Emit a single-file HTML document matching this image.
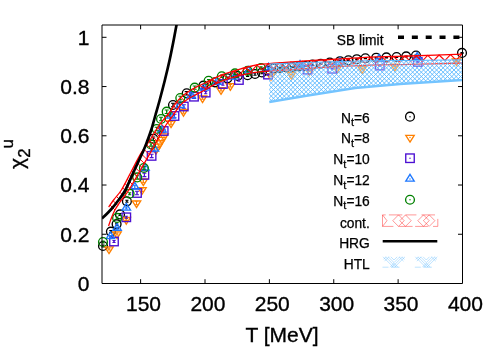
<!DOCTYPE html>
<html><head><meta charset="utf-8"><title>chi2u</title>
<style>
html,body{margin:0;padding:0;background:#fff;}
body{width:500px;height:350px;overflow:hidden;font-family:"Liberation Sans",sans-serif;}
svg{display:block;font-family:"Liberation Sans",sans-serif;will-change:transform;}
</style></head><body>
<svg width="500" height="350" viewBox="0 0 500 350">
<defs>
<clipPath id="plot"><rect x="102" y="25" width="360.5" height="258.5"/></clipPath>
</defs>
<rect x="0" y="0" width="500" height="350" fill="#fff"/>

<g>
<path d="M103.00,245.00 V247.00 M101.40,245.00 H104.60 M101.40,247.00 H104.60" stroke="#000" stroke-width="1.05" fill="none"/>
<circle cx="103.00" cy="246.00" r="4.4" fill="none" stroke="#000" stroke-width="1.35"/><circle cx="103.00" cy="246.00" r="0.7" fill="#000"/>
<path d="M110.90,230.60 V232.60 M109.30,230.60 H112.50 M109.30,232.60 H112.50" stroke="#000" stroke-width="1.05" fill="none"/>
<circle cx="110.90" cy="231.60" r="4.4" fill="none" stroke="#000" stroke-width="1.35"/><circle cx="110.90" cy="231.60" r="0.7" fill="#000"/>
<path d="M116.60,223.10 V225.10 M115.00,223.10 H118.20 M115.00,225.10 H118.20" stroke="#000" stroke-width="1.05" fill="none"/>
<circle cx="116.60" cy="224.10" r="4.4" fill="none" stroke="#000" stroke-width="1.35"/><circle cx="116.60" cy="224.10" r="0.7" fill="#000"/>
<path d="M120.00,213.40 V215.40 M118.40,213.40 H121.60 M118.40,215.40 H121.60" stroke="#000" stroke-width="1.05" fill="none"/>
<circle cx="120.00" cy="214.40" r="4.4" fill="none" stroke="#000" stroke-width="1.35"/><circle cx="120.00" cy="214.40" r="0.7" fill="#000"/>
<path d="M126.90,200.30 V202.30 M125.30,200.30 H128.50 M125.30,202.30 H128.50" stroke="#000" stroke-width="1.05" fill="none"/>
<circle cx="126.90" cy="201.30" r="4.4" fill="none" stroke="#000" stroke-width="1.35"/><circle cx="126.90" cy="201.30" r="0.7" fill="#000"/>
<path d="M153.30,137.00 V140.40 M151.30,137.00 H155.30 M151.30,140.40 H155.30" stroke="#000" stroke-width="1.05" fill="none"/>
<circle cx="153.30" cy="138.70" r="4.4" fill="none" stroke="#000" stroke-width="1.35"/><circle cx="153.30" cy="138.70" r="0.7" fill="#000"/>
<path d="M173.00,103.30 V106.70 M171.00,103.30 H175.00 M171.00,106.70 H175.00" stroke="#000" stroke-width="1.05" fill="none"/>
<circle cx="173.00" cy="105.00" r="4.4" fill="none" stroke="#000" stroke-width="1.35"/><circle cx="173.00" cy="105.00" r="0.7" fill="#000"/>
<path d="M186.70,91.60 V95.00 M184.70,91.60 H188.70 M184.70,95.00 H188.70" stroke="#000" stroke-width="1.05" fill="none"/>
<circle cx="186.70" cy="93.30" r="4.4" fill="none" stroke="#000" stroke-width="1.35"/><circle cx="186.70" cy="93.30" r="0.7" fill="#000"/>
<path d="M203.40,84.50 V86.90 M201.80,84.50 H205.00 M201.80,86.90 H205.00" stroke="#000" stroke-width="1.05" fill="none"/>
<circle cx="203.40" cy="85.70" r="4.4" fill="none" stroke="#000" stroke-width="1.35"/><circle cx="203.40" cy="85.70" r="0.7" fill="#000"/>
<path d="M214.90,81.10 V83.50 M213.30,81.10 H216.50 M213.30,83.50 H216.50" stroke="#000" stroke-width="1.05" fill="none"/>
<circle cx="214.90" cy="82.30" r="4.4" fill="none" stroke="#000" stroke-width="1.35"/><circle cx="214.90" cy="82.30" r="0.7" fill="#000"/>
<path d="M227.40,77.10 V79.50 M225.80,77.10 H229.00 M225.80,79.50 H229.00" stroke="#000" stroke-width="1.05" fill="none"/>
<circle cx="227.40" cy="78.30" r="4.4" fill="none" stroke="#000" stroke-width="1.35"/><circle cx="227.40" cy="78.30" r="0.7" fill="#000"/>
<path d="M237.70,74.80 V77.20 M236.10,74.80 H239.30 M236.10,77.20 H239.30" stroke="#000" stroke-width="1.05" fill="none"/>
<circle cx="237.70" cy="76.00" r="4.4" fill="none" stroke="#000" stroke-width="1.35"/><circle cx="237.70" cy="76.00" r="0.7" fill="#000"/>
<path d="M247.60,74.00 V76.40 M246.00,74.00 H249.20 M246.00,76.40 H249.20" stroke="#000" stroke-width="1.05" fill="none"/>
<circle cx="247.60" cy="75.20" r="4.4" fill="none" stroke="#000" stroke-width="1.35"/><circle cx="247.60" cy="75.20" r="0.7" fill="#000"/>
<path d="M255.00,72.80 V75.20 M253.40,72.80 H256.60 M253.40,75.20 H256.60" stroke="#000" stroke-width="1.05" fill="none"/>
<circle cx="255.00" cy="74.00" r="4.4" fill="none" stroke="#000" stroke-width="1.35"/><circle cx="255.00" cy="74.00" r="0.7" fill="#000"/>
<path d="M261.90,71.30 V73.70 M260.30,71.30 H263.50 M260.30,73.70 H263.50" stroke="#000" stroke-width="1.05" fill="none"/>
<circle cx="261.90" cy="72.50" r="4.4" fill="none" stroke="#000" stroke-width="1.35"/><circle cx="261.90" cy="72.50" r="0.7" fill="#000"/>
<path d="M267.50,70.00 V71.00 M265.90,70.00 H269.10 M265.90,71.00 H269.10" stroke="#000" stroke-width="1.05" fill="none"/>
<circle cx="267.50" cy="70.50" r="4.4" fill="none" stroke="#000" stroke-width="1.35"/><circle cx="267.50" cy="70.50" r="0.7" fill="#000"/>
<path d="M273.40,68.10 V69.10 M271.80,68.10 H275.00 M271.80,69.10 H275.00" stroke="#000" stroke-width="1.05" fill="none"/>
<circle cx="273.40" cy="68.60" r="4.4" fill="none" stroke="#000" stroke-width="1.35"/><circle cx="273.40" cy="68.60" r="0.7" fill="#000"/>
<path d="M279.80,67.30 V68.30 M278.20,67.30 H281.40 M278.20,68.30 H281.40" stroke="#000" stroke-width="1.05" fill="none"/>
<circle cx="279.80" cy="67.80" r="4.4" fill="none" stroke="#000" stroke-width="1.35"/><circle cx="279.80" cy="67.80" r="0.7" fill="#000"/>
<path d="M286.20,66.90 V67.90 M284.60,66.90 H287.80 M284.60,67.90 H287.80" stroke="#000" stroke-width="1.05" fill="none"/>
<circle cx="286.20" cy="67.40" r="4.4" fill="none" stroke="#000" stroke-width="1.35"/><circle cx="286.20" cy="67.40" r="0.7" fill="#000"/>
<path d="M292.40,66.50 V67.50 M290.80,66.50 H294.00 M290.80,67.50 H294.00" stroke="#000" stroke-width="1.05" fill="none"/>
<circle cx="292.40" cy="67.00" r="4.4" fill="none" stroke="#000" stroke-width="1.35"/><circle cx="292.40" cy="67.00" r="0.7" fill="#000"/>
<path d="M298.80,66.00 V67.00 M297.20,66.00 H300.40 M297.20,67.00 H300.40" stroke="#000" stroke-width="1.05" fill="none"/>
<circle cx="298.80" cy="66.50" r="4.4" fill="none" stroke="#000" stroke-width="1.35"/><circle cx="298.80" cy="66.50" r="0.7" fill="#000"/>
<path d="M305.20,65.50 V66.50 M303.60,65.50 H306.80 M303.60,66.50 H306.80" stroke="#000" stroke-width="1.05" fill="none"/>
<circle cx="305.20" cy="66.00" r="4.4" fill="none" stroke="#000" stroke-width="1.35"/><circle cx="305.20" cy="66.00" r="0.7" fill="#000"/>
<path d="M312.40,64.20 V65.20 M310.80,64.20 H314.00 M310.80,65.20 H314.00" stroke="#000" stroke-width="1.05" fill="none"/>
<circle cx="312.40" cy="64.70" r="4.4" fill="none" stroke="#000" stroke-width="1.35"/><circle cx="312.40" cy="64.70" r="0.7" fill="#000"/>
<path d="M320.80,63.20 V64.20 M319.20,63.20 H322.40 M319.20,64.20 H322.40" stroke="#000" stroke-width="1.05" fill="none"/>
<circle cx="320.80" cy="63.70" r="4.4" fill="none" stroke="#000" stroke-width="1.35"/><circle cx="320.80" cy="63.70" r="0.7" fill="#000"/>
<path d="M329.80,62.00 V63.00 M328.20,62.00 H331.40 M328.20,63.00 H331.40" stroke="#000" stroke-width="1.05" fill="none"/>
<circle cx="329.80" cy="62.50" r="4.4" fill="none" stroke="#000" stroke-width="1.35"/><circle cx="329.80" cy="62.50" r="0.7" fill="#000"/>
<path d="M340.00,60.70 V61.70 M338.40,60.70 H341.60 M338.40,61.70 H341.60" stroke="#000" stroke-width="1.05" fill="none"/>
<circle cx="340.00" cy="61.20" r="4.4" fill="none" stroke="#000" stroke-width="1.35"/><circle cx="340.00" cy="61.20" r="0.7" fill="#000"/>
<path d="M348.40,59.80 V60.80 M346.80,59.80 H350.00 M346.80,60.80 H350.00" stroke="#000" stroke-width="1.05" fill="none"/>
<circle cx="348.40" cy="60.30" r="4.4" fill="none" stroke="#000" stroke-width="1.35"/><circle cx="348.40" cy="60.30" r="0.7" fill="#000"/>
<path d="M356.80,58.70 V59.70 M355.20,58.70 H358.40 M355.20,59.70 H358.40" stroke="#000" stroke-width="1.05" fill="none"/>
<circle cx="356.80" cy="59.20" r="4.4" fill="none" stroke="#000" stroke-width="1.35"/><circle cx="356.80" cy="59.20" r="0.7" fill="#000"/>
<path d="M365.40,57.80 V58.80 M363.80,57.80 H367.00 M363.80,58.80 H367.00" stroke="#000" stroke-width="1.05" fill="none"/>
<circle cx="365.40" cy="58.30" r="4.4" fill="none" stroke="#000" stroke-width="1.35"/><circle cx="365.40" cy="58.30" r="0.7" fill="#000"/>
<path d="M376.20,57.20 V58.20 M374.60,57.20 H377.80 M374.60,58.20 H377.80" stroke="#000" stroke-width="1.05" fill="none"/>
<circle cx="376.20" cy="57.70" r="4.4" fill="none" stroke="#000" stroke-width="1.35"/><circle cx="376.20" cy="57.70" r="0.7" fill="#000"/>
<path d="M386.40,56.90 V57.90 M384.80,56.90 H388.00 M384.80,57.90 H388.00" stroke="#000" stroke-width="1.05" fill="none"/>
<circle cx="386.40" cy="57.40" r="4.4" fill="none" stroke="#000" stroke-width="1.35"/><circle cx="386.40" cy="57.40" r="0.7" fill="#000"/>
<path d="M396.60,56.50 V57.50 M395.00,56.50 H398.20 M395.00,57.50 H398.20" stroke="#000" stroke-width="1.05" fill="none"/>
<circle cx="396.60" cy="57.00" r="4.4" fill="none" stroke="#000" stroke-width="1.35"/><circle cx="396.60" cy="57.00" r="0.7" fill="#000"/>
<path d="M406.20,55.90 V56.90 M404.60,55.90 H407.80 M404.60,56.90 H407.80" stroke="#000" stroke-width="1.05" fill="none"/>
<circle cx="406.20" cy="56.40" r="4.4" fill="none" stroke="#000" stroke-width="1.35"/><circle cx="406.20" cy="56.40" r="0.7" fill="#000"/>
<path d="M416.00,55.00 V56.00 M414.40,55.00 H417.60 M414.40,56.00 H417.60" stroke="#000" stroke-width="1.05" fill="none"/>
<circle cx="416.00" cy="55.50" r="4.4" fill="none" stroke="#000" stroke-width="1.35"/><circle cx="416.00" cy="55.50" r="0.7" fill="#000"/>
<path d="M462.00,52.40 V53.40 M460.40,52.40 H463.60 M460.40,53.40 H463.60" stroke="#000" stroke-width="1.05" fill="none"/>
<circle cx="462.00" cy="52.90" r="4.4" fill="none" stroke="#000" stroke-width="1.35"/><circle cx="462.00" cy="52.90" r="0.7" fill="#000"/>
<path d="M109.00,248.00 V250.00 M107.40,248.00 H110.60 M107.40,250.00 H110.60" stroke="#ff8000" stroke-width="1.05" fill="none"/>
<path d="M109.00,253.60 L113.20,246.90 L104.80,246.90 Z" fill="none" stroke="#ff8000" stroke-width="1.35"/><circle cx="109.00" cy="249.00" r="0.7" fill="#ff8000"/>
<path d="M117.00,233.00 V235.00 M115.40,233.00 H118.60 M115.40,235.00 H118.60" stroke="#ff8000" stroke-width="1.05" fill="none"/>
<path d="M117.00,238.60 L121.20,231.90 L112.80,231.90 Z" fill="none" stroke="#ff8000" stroke-width="1.35"/><circle cx="117.00" cy="234.00" r="0.7" fill="#ff8000"/>
<path d="M126.30,218.60 V220.60 M124.70,218.60 H127.90 M124.70,220.60 H127.90" stroke="#ff8000" stroke-width="1.05" fill="none"/>
<path d="M126.30,224.20 L130.50,217.50 L122.10,217.50 Z" fill="none" stroke="#ff8000" stroke-width="1.35"/><circle cx="126.30" cy="219.60" r="0.7" fill="#ff8000"/>
<path d="M136.50,201.30 V204.70 M134.50,201.30 H138.50 M134.50,204.70 H138.50" stroke="#ff8000" stroke-width="1.05" fill="none"/>
<path d="M136.50,207.60 L140.70,200.90 L132.30,200.90 Z" fill="none" stroke="#ff8000" stroke-width="1.35"/><circle cx="136.50" cy="203.00" r="0.7" fill="#ff8000"/>
<path d="M142.00,188.00 V191.40 M140.00,188.00 H144.00 M140.00,191.40 H144.00" stroke="#ff8000" stroke-width="1.05" fill="none"/>
<path d="M142.00,194.30 L146.20,187.60 L137.80,187.60 Z" fill="none" stroke="#ff8000" stroke-width="1.35"/><circle cx="142.00" cy="189.70" r="0.7" fill="#ff8000"/>
<path d="M143.30,179.30 V182.70 M141.30,179.30 H145.30 M141.30,182.70 H145.30" stroke="#ff8000" stroke-width="1.05" fill="none"/>
<path d="M143.30,185.60 L147.50,178.90 L139.10,178.90 Z" fill="none" stroke="#ff8000" stroke-width="1.35"/><circle cx="143.30" cy="181.00" r="0.7" fill="#ff8000"/>
<path d="M171.00,121.30 V124.70 M169.00,121.30 H173.00 M169.00,124.70 H173.00" stroke="#ff8000" stroke-width="1.05" fill="none"/>
<path d="M171.00,127.60 L175.20,120.90 L166.80,120.90 Z" fill="none" stroke="#ff8000" stroke-width="1.35"/><circle cx="171.00" cy="123.00" r="0.7" fill="#ff8000"/>
<path d="M183.50,109.90 V113.30 M181.50,109.90 H185.50 M181.50,113.30 H185.50" stroke="#ff8000" stroke-width="1.05" fill="none"/>
<path d="M183.50,116.20 L187.70,109.50 L179.30,109.50 Z" fill="none" stroke="#ff8000" stroke-width="1.35"/><circle cx="183.50" cy="111.60" r="0.7" fill="#ff8000"/>
<path d="M202.50,96.80 V99.20 M200.90,96.80 H204.10 M200.90,99.20 H204.10" stroke="#ff8000" stroke-width="1.05" fill="none"/>
<path d="M202.50,102.60 L206.70,95.90 L198.30,95.90 Z" fill="none" stroke="#ff8000" stroke-width="1.35"/><circle cx="202.50" cy="98.00" r="0.7" fill="#ff8000"/>
<path d="M221.00,88.50 V90.90 M219.40,88.50 H222.60 M219.40,90.90 H222.60" stroke="#ff8000" stroke-width="1.05" fill="none"/>
<path d="M221.00,94.30 L225.20,87.60 L216.80,87.60 Z" fill="none" stroke="#ff8000" stroke-width="1.35"/><circle cx="221.00" cy="89.70" r="0.7" fill="#ff8000"/>
<path d="M230.30,84.50 V86.90 M228.70,84.50 H231.90 M228.70,86.90 H231.90" stroke="#ff8000" stroke-width="1.05" fill="none"/>
<path d="M230.30,90.30 L234.50,83.60 L226.10,83.60 Z" fill="none" stroke="#ff8000" stroke-width="1.35"/><circle cx="230.30" cy="85.70" r="0.7" fill="#ff8000"/>
<path d="M271.00,75.30 V76.30 M269.40,75.30 H272.60 M269.40,76.30 H272.60" stroke="#ff8000" stroke-width="1.05" fill="none"/>
<path d="M271.00,80.40 L275.20,73.70 L266.80,73.70 Z" fill="none" stroke="#ff8000" stroke-width="1.35"/><circle cx="271.00" cy="75.80" r="0.7" fill="#ff8000"/>
<path d="M291.40,73.90 V74.90 M289.80,73.90 H293.00 M289.80,74.90 H293.00" stroke="#ff8000" stroke-width="1.05" fill="none"/>
<path d="M291.40,79.00 L295.60,72.30 L287.20,72.30 Z" fill="none" stroke="#ff8000" stroke-width="1.35"/><circle cx="291.40" cy="74.40" r="0.7" fill="#ff8000"/>
<path d="M309.40,70.30 V71.30 M307.80,70.30 H311.00 M307.80,71.30 H311.00" stroke="#ff8000" stroke-width="1.05" fill="none"/>
<path d="M309.40,75.40 L313.60,68.70 L305.20,68.70 Z" fill="none" stroke="#ff8000" stroke-width="1.35"/><circle cx="309.40" cy="70.80" r="0.7" fill="#ff8000"/>
<path d="M337.00,67.70 V68.70 M335.40,67.70 H338.60 M335.40,68.70 H338.60" stroke="#ff8000" stroke-width="1.05" fill="none"/>
<path d="M337.00,72.80 L341.20,66.10 L332.80,66.10 Z" fill="none" stroke="#ff8000" stroke-width="1.35"/><circle cx="337.00" cy="68.20" r="0.7" fill="#ff8000"/>
<path d="M362.20,68.30 V69.30 M360.60,68.30 H363.80 M360.60,69.30 H363.80" stroke="#ff8000" stroke-width="1.05" fill="none"/>
<path d="M362.20,73.40 L366.40,66.70 L358.00,66.70 Z" fill="none" stroke="#ff8000" stroke-width="1.35"/><circle cx="362.20" cy="68.80" r="0.7" fill="#ff8000"/>
<path d="M394.80,65.70 V66.70 M393.20,65.70 H396.40 M393.20,66.70 H396.40" stroke="#ff8000" stroke-width="1.05" fill="none"/>
<path d="M394.80,70.80 L399.00,64.10 L390.60,64.10 Z" fill="none" stroke="#ff8000" stroke-width="1.35"/><circle cx="394.80" cy="66.20" r="0.7" fill="#ff8000"/>
<path d="M456.50,60.50 V61.50 M454.90,60.50 H458.10 M454.90,61.50 H458.10" stroke="#ff8000" stroke-width="1.05" fill="none"/>
<path d="M456.50,65.60 L460.70,58.90 L452.30,58.90 Z" fill="none" stroke="#ff8000" stroke-width="1.35"/><circle cx="456.50" cy="61.00" r="0.7" fill="#ff8000"/>
<path d="M156.00,154.20 L160.20,147.50 L151.80,147.50 Z" fill="none" stroke="#ff8000" stroke-width="1.35"/><circle cx="156.00" cy="149.60" r="0.7" fill="#ff8000"/>
<path d="M158.00,150.80 L162.20,144.10 L153.80,144.10 Z" fill="none" stroke="#ff8000" stroke-width="1.35"/><circle cx="158.00" cy="146.20" r="0.7" fill="#ff8000"/>
<path d="M160.00,147.40 L164.20,140.70 L155.80,140.70 Z" fill="none" stroke="#ff8000" stroke-width="1.35"/><circle cx="160.00" cy="142.80" r="0.7" fill="#ff8000"/>
<path d="M162.00,144.00 L166.20,137.30 L157.80,137.30 Z" fill="none" stroke="#ff8000" stroke-width="1.35"/><circle cx="162.00" cy="139.40" r="0.7" fill="#ff8000"/>
<path d="M164.00,140.60 L168.20,133.90 L159.80,133.90 Z" fill="none" stroke="#ff8000" stroke-width="1.35"/><circle cx="164.00" cy="136.00" r="0.7" fill="#ff8000"/>
<path d="M114.00,240.50 V242.50 M112.40,240.50 H115.60 M112.40,242.50 H115.60" stroke="#4b0fd2" stroke-width="1.05" fill="none"/>
<rect x="109.75" y="237.25" width="8.5" height="8.5" fill="none" stroke="#4b0fd2" stroke-width="1.35"/><circle cx="114.00" cy="241.50" r="0.7" fill="#4b0fd2"/>
<path d="M126.30,216.30 V218.30 M124.70,216.30 H127.90 M124.70,218.30 H127.90" stroke="#4b0fd2" stroke-width="1.05" fill="none"/>
<rect x="122.05" y="213.05" width="8.5" height="8.5" fill="none" stroke="#4b0fd2" stroke-width="1.35"/><circle cx="126.30" cy="217.30" r="0.7" fill="#4b0fd2"/>
<path d="M137.00,191.30 V194.70 M135.00,191.30 H139.00 M135.00,194.70 H139.00" stroke="#4b0fd2" stroke-width="1.05" fill="none"/>
<rect x="132.75" y="188.75" width="8.5" height="8.5" fill="none" stroke="#4b0fd2" stroke-width="1.35"/><circle cx="137.00" cy="193.00" r="0.7" fill="#4b0fd2"/>
<path d="M144.40,173.20 V176.60 M142.40,173.20 H146.40 M142.40,176.60 H146.40" stroke="#4b0fd2" stroke-width="1.05" fill="none"/>
<rect x="140.15" y="170.65" width="8.5" height="8.5" fill="none" stroke="#4b0fd2" stroke-width="1.35"/><circle cx="144.40" cy="174.90" r="0.7" fill="#4b0fd2"/>
<path d="M151.60,154.20 V157.60 M149.60,154.20 H153.60 M149.60,157.60 H153.60" stroke="#4b0fd2" stroke-width="1.05" fill="none"/>
<rect x="147.35" y="151.65" width="8.5" height="8.5" fill="none" stroke="#4b0fd2" stroke-width="1.35"/><circle cx="151.60" cy="155.90" r="0.7" fill="#4b0fd2"/>
<path d="M163.70,129.30 V132.70 M161.70,129.30 H165.70 M161.70,132.70 H165.70" stroke="#4b0fd2" stroke-width="1.05" fill="none"/>
<rect x="159.45" y="126.75" width="8.5" height="8.5" fill="none" stroke="#4b0fd2" stroke-width="1.35"/><circle cx="163.70" cy="131.00" r="0.7" fill="#4b0fd2"/>
<path d="M174.50,114.30 V117.70 M172.50,114.30 H176.50 M172.50,117.70 H176.50" stroke="#4b0fd2" stroke-width="1.05" fill="none"/>
<rect x="170.25" y="111.75" width="8.5" height="8.5" fill="none" stroke="#4b0fd2" stroke-width="1.35"/><circle cx="174.50" cy="116.00" r="0.7" fill="#4b0fd2"/>
<path d="M183.80,104.80 V108.20 M181.80,104.80 H185.80 M181.80,108.20 H185.80" stroke="#4b0fd2" stroke-width="1.05" fill="none"/>
<rect x="179.55" y="102.25" width="8.5" height="8.5" fill="none" stroke="#4b0fd2" stroke-width="1.35"/><circle cx="183.80" cy="106.50" r="0.7" fill="#4b0fd2"/>
<path d="M194.00,95.00 V98.40 M192.00,95.00 H196.00 M192.00,98.40 H196.00" stroke="#4b0fd2" stroke-width="1.05" fill="none"/>
<rect x="189.75" y="92.45" width="8.5" height="8.5" fill="none" stroke="#4b0fd2" stroke-width="1.35"/><circle cx="194.00" cy="96.70" r="0.7" fill="#4b0fd2"/>
<path d="M205.70,91.40 V93.80 M204.10,91.40 H207.30 M204.10,93.80 H207.30" stroke="#4b0fd2" stroke-width="1.05" fill="none"/>
<rect x="201.45" y="88.35" width="8.5" height="8.5" fill="none" stroke="#4b0fd2" stroke-width="1.35"/><circle cx="205.70" cy="92.60" r="0.7" fill="#4b0fd2"/>
<path d="M222.90,82.80 V85.20 M221.30,82.80 H224.50 M221.30,85.20 H224.50" stroke="#4b0fd2" stroke-width="1.05" fill="none"/>
<rect x="218.65" y="79.75" width="8.5" height="8.5" fill="none" stroke="#4b0fd2" stroke-width="1.35"/><circle cx="222.90" cy="84.00" r="0.7" fill="#4b0fd2"/>
<path d="M238.90,78.80 V81.20 M237.30,78.80 H240.50 M237.30,81.20 H240.50" stroke="#4b0fd2" stroke-width="1.05" fill="none"/>
<rect x="234.65" y="75.75" width="8.5" height="8.5" fill="none" stroke="#4b0fd2" stroke-width="1.35"/><circle cx="238.90" cy="80.00" r="0.7" fill="#4b0fd2"/>
<path d="M268.00,74.10 V75.10 M266.40,74.10 H269.60 M266.40,75.10 H269.60" stroke="#4b0fd2" stroke-width="1.05" fill="none"/>
<rect x="263.75" y="70.35" width="8.5" height="8.5" fill="none" stroke="#4b0fd2" stroke-width="1.35"/><circle cx="268.00" cy="74.60" r="0.7" fill="#4b0fd2"/>
<path d="M307.60,69.10 V70.10 M306.00,69.10 H309.20 M306.00,70.10 H309.20" stroke="#4b0fd2" stroke-width="1.05" fill="none"/>
<rect x="303.35" y="65.35" width="8.5" height="8.5" fill="none" stroke="#4b0fd2" stroke-width="1.35"/><circle cx="307.60" cy="69.60" r="0.7" fill="#4b0fd2"/>
<path d="M332.20,68.30 V69.30 M330.60,68.30 H333.80 M330.60,69.30 H333.80" stroke="#4b0fd2" stroke-width="1.05" fill="none"/>
<rect x="327.95" y="64.55" width="8.5" height="8.5" fill="none" stroke="#4b0fd2" stroke-width="1.35"/><circle cx="332.20" cy="68.80" r="0.7" fill="#4b0fd2"/>
<path d="M379.80,65.10 V66.10 M378.20,65.10 H381.40 M378.20,66.10 H381.40" stroke="#4b0fd2" stroke-width="1.05" fill="none"/>
<rect x="375.55" y="61.35" width="8.5" height="8.5" fill="none" stroke="#4b0fd2" stroke-width="1.35"/><circle cx="379.80" cy="65.60" r="0.7" fill="#4b0fd2"/>
<path d="M417.80,61.50 V62.50 M416.20,61.50 H419.40 M416.20,62.50 H419.40" stroke="#4b0fd2" stroke-width="1.05" fill="none"/>
<rect x="413.55" y="57.75" width="8.5" height="8.5" fill="none" stroke="#4b0fd2" stroke-width="1.35"/><circle cx="417.80" cy="62.00" r="0.7" fill="#4b0fd2"/>
<path d="M110.50,235.50 V237.50 M108.90,235.50 H112.10 M108.90,237.50 H112.10" stroke="#1e78ff" stroke-width="1.05" fill="none"/>
<path d="M110.50,231.90 L114.70,238.60 L106.30,238.60 Z" fill="none" stroke="#1e78ff" stroke-width="1.35"/><circle cx="110.50" cy="236.50" r="0.7" fill="#1e78ff"/>
<path d="M117.10,227.10 V229.10 M115.50,227.10 H118.70 M115.50,229.10 H118.70" stroke="#1e78ff" stroke-width="1.05" fill="none"/>
<path d="M117.10,223.50 L121.30,230.20 L112.90,230.20 Z" fill="none" stroke="#1e78ff" stroke-width="1.35"/><circle cx="117.10" cy="228.10" r="0.7" fill="#1e78ff"/>
<path d="M126.30,207.00 V209.00 M124.70,207.00 H127.90 M124.70,209.00 H127.90" stroke="#1e78ff" stroke-width="1.05" fill="none"/>
<path d="M126.30,203.40 L130.50,210.10 L122.10,210.10 Z" fill="none" stroke="#1e78ff" stroke-width="1.35"/><circle cx="126.30" cy="208.00" r="0.7" fill="#1e78ff"/>
<path d="M134.80,185.30 V188.70 M132.80,185.30 H136.80 M132.80,188.70 H136.80" stroke="#1e78ff" stroke-width="1.05" fill="none"/>
<path d="M134.80,182.40 L139.00,189.10 L130.60,189.10 Z" fill="none" stroke="#1e78ff" stroke-width="1.35"/><circle cx="134.80" cy="187.00" r="0.7" fill="#1e78ff"/>
<path d="M145.00,166.30 V169.70 M143.00,166.30 H147.00 M143.00,169.70 H147.00" stroke="#1e78ff" stroke-width="1.05" fill="none"/>
<path d="M145.00,163.40 L149.20,170.10 L140.80,170.10 Z" fill="none" stroke="#1e78ff" stroke-width="1.35"/><circle cx="145.00" cy="168.00" r="0.7" fill="#1e78ff"/>
<path d="M154.40,147.30 V150.70 M152.40,147.30 H156.40 M152.40,150.70 H156.40" stroke="#1e78ff" stroke-width="1.05" fill="none"/>
<path d="M154.40,144.40 L158.60,151.10 L150.20,151.10 Z" fill="none" stroke="#1e78ff" stroke-width="1.35"/><circle cx="154.40" cy="149.00" r="0.7" fill="#1e78ff"/>
<path d="M162.00,128.30 V131.70 M160.00,128.30 H164.00 M160.00,131.70 H164.00" stroke="#1e78ff" stroke-width="1.05" fill="none"/>
<path d="M162.00,125.40 L166.20,132.10 L157.80,132.10 Z" fill="none" stroke="#1e78ff" stroke-width="1.35"/><circle cx="162.00" cy="130.00" r="0.7" fill="#1e78ff"/>
<path d="M171.00,114.30 V117.70 M169.00,114.30 H173.00 M169.00,117.70 H173.00" stroke="#1e78ff" stroke-width="1.05" fill="none"/>
<path d="M171.00,111.40 L175.20,118.10 L166.80,118.10 Z" fill="none" stroke="#1e78ff" stroke-width="1.35"/><circle cx="171.00" cy="116.00" r="0.7" fill="#1e78ff"/>
<path d="M180.00,103.80 V107.20 M178.00,103.80 H182.00 M178.00,107.20 H182.00" stroke="#1e78ff" stroke-width="1.05" fill="none"/>
<path d="M180.00,100.90 L184.20,107.60 L175.80,107.60 Z" fill="none" stroke="#1e78ff" stroke-width="1.35"/><circle cx="180.00" cy="105.50" r="0.7" fill="#1e78ff"/>
<path d="M191.30,93.90 V97.30 M189.30,93.90 H193.30 M189.30,97.30 H193.30" stroke="#1e78ff" stroke-width="1.05" fill="none"/>
<path d="M191.30,91.00 L195.50,97.70 L187.10,97.70 Z" fill="none" stroke="#1e78ff" stroke-width="1.35"/><circle cx="191.30" cy="95.60" r="0.7" fill="#1e78ff"/>
<path d="M204.00,86.80 V89.20 M202.40,86.80 H205.60 M202.40,89.20 H205.60" stroke="#1e78ff" stroke-width="1.05" fill="none"/>
<path d="M204.00,83.40 L208.20,90.10 L199.80,90.10 Z" fill="none" stroke="#1e78ff" stroke-width="1.35"/><circle cx="204.00" cy="88.00" r="0.7" fill="#1e78ff"/>
<path d="M217.00,81.10 V83.50 M215.40,81.10 H218.60 M215.40,83.50 H218.60" stroke="#1e78ff" stroke-width="1.05" fill="none"/>
<path d="M217.00,77.70 L221.20,84.40 L212.80,84.40 Z" fill="none" stroke="#1e78ff" stroke-width="1.35"/><circle cx="217.00" cy="82.30" r="0.7" fill="#1e78ff"/>
<path d="M232.00,75.80 V78.20 M230.40,75.80 H233.60 M230.40,78.20 H233.60" stroke="#1e78ff" stroke-width="1.05" fill="none"/>
<path d="M232.00,72.40 L236.20,79.10 L227.80,79.10 Z" fill="none" stroke="#1e78ff" stroke-width="1.35"/><circle cx="232.00" cy="77.00" r="0.7" fill="#1e78ff"/>
<path d="M248.70,69.80 V72.20 M247.10,69.80 H250.30 M247.10,72.20 H250.30" stroke="#1e78ff" stroke-width="1.05" fill="none"/>
<path d="M248.70,66.40 L252.90,73.10 L244.50,73.10 Z" fill="none" stroke="#1e78ff" stroke-width="1.35"/><circle cx="248.70" cy="71.00" r="0.7" fill="#1e78ff"/>
<path d="M268.60,67.30 V68.30 M267.00,67.30 H270.20 M267.00,68.30 H270.20" stroke="#1e78ff" stroke-width="1.05" fill="none"/>
<path d="M268.60,63.20 L272.80,69.90 L264.40,69.90 Z" fill="none" stroke="#1e78ff" stroke-width="1.35"/><circle cx="268.60" cy="67.80" r="0.7" fill="#1e78ff"/>
<path d="M300.00,64.50 V65.50 M298.40,64.50 H301.60 M298.40,65.50 H301.60" stroke="#1e78ff" stroke-width="1.05" fill="none"/>
<path d="M300.00,60.40 L304.20,67.10 L295.80,67.10 Z" fill="none" stroke="#1e78ff" stroke-width="1.35"/><circle cx="300.00" cy="65.00" r="0.7" fill="#1e78ff"/>
<path d="M340.00,61.70 V62.70 M338.40,61.70 H341.60 M338.40,62.70 H341.60" stroke="#1e78ff" stroke-width="1.05" fill="none"/>
<path d="M340.00,57.60 L344.20,64.30 L335.80,64.30 Z" fill="none" stroke="#1e78ff" stroke-width="1.35"/><circle cx="340.00" cy="62.20" r="0.7" fill="#1e78ff"/>
<path d="M379.00,58.50 V59.50 M377.40,58.50 H380.60 M377.40,59.50 H380.60" stroke="#1e78ff" stroke-width="1.05" fill="none"/>
<path d="M379.00,54.40 L383.20,61.10 L374.80,61.10 Z" fill="none" stroke="#1e78ff" stroke-width="1.35"/><circle cx="379.00" cy="59.00" r="0.7" fill="#1e78ff"/>
<path d="M417.20,56.70 V57.70 M415.60,56.70 H418.80 M415.60,57.70 H418.80" stroke="#1e78ff" stroke-width="1.05" fill="none"/>
<path d="M417.20,52.60 L421.40,59.30 L413.00,59.30 Z" fill="none" stroke="#1e78ff" stroke-width="1.35"/><circle cx="417.20" cy="57.20" r="0.7" fill="#1e78ff"/>
<path d="M103.00,241.00 V243.00 M101.40,241.00 H104.60 M101.40,243.00 H104.60" stroke="#008000" stroke-width="1.05" fill="none"/>
<circle cx="103.00" cy="242.00" r="4.4" fill="none" stroke="#008000" stroke-width="1.35"/><circle cx="103.00" cy="242.00" r="0.7" fill="#008000"/>
<path d="M117.10,216.90 V218.90 M115.50,216.90 H118.70 M115.50,218.90 H118.70" stroke="#008000" stroke-width="1.05" fill="none"/>
<circle cx="117.10" cy="217.90" r="4.4" fill="none" stroke="#008000" stroke-width="1.35"/><circle cx="117.10" cy="217.90" r="0.7" fill="#008000"/>
<path d="M129.60,192.70 V194.70 M128.00,192.70 H131.20 M128.00,194.70 H131.20" stroke="#008000" stroke-width="1.05" fill="none"/>
<circle cx="129.60" cy="193.70" r="4.4" fill="none" stroke="#008000" stroke-width="1.35"/><circle cx="129.60" cy="193.70" r="0.7" fill="#008000"/>
<path d="M137.20,175.70 V179.10 M135.20,175.70 H139.20 M135.20,179.10 H139.20" stroke="#008000" stroke-width="1.05" fill="none"/>
<circle cx="137.20" cy="177.40" r="4.4" fill="none" stroke="#008000" stroke-width="1.35"/><circle cx="137.20" cy="177.40" r="0.7" fill="#008000"/>
<path d="M143.90,166.30 V169.70 M141.90,166.30 H145.90 M141.90,169.70 H145.90" stroke="#008000" stroke-width="1.05" fill="none"/>
<circle cx="143.90" cy="168.00" r="4.4" fill="none" stroke="#008000" stroke-width="1.35"/><circle cx="143.90" cy="168.00" r="0.7" fill="#008000"/>
<path d="M151.00,142.70 V146.10 M149.00,142.70 H153.00 M149.00,146.10 H153.00" stroke="#008000" stroke-width="1.05" fill="none"/>
<circle cx="151.00" cy="144.40" r="4.4" fill="none" stroke="#008000" stroke-width="1.35"/><circle cx="151.00" cy="144.40" r="0.7" fill="#008000"/>
<path d="M156.70,127.30 V130.70 M154.70,127.30 H158.70 M154.70,130.70 H158.70" stroke="#008000" stroke-width="1.05" fill="none"/>
<circle cx="156.70" cy="129.00" r="4.4" fill="none" stroke="#008000" stroke-width="1.35"/><circle cx="156.70" cy="129.00" r="0.7" fill="#008000"/>
<path d="M161.00,117.30 V120.70 M159.00,117.30 H163.00 M159.00,120.70 H163.00" stroke="#008000" stroke-width="1.05" fill="none"/>
<circle cx="161.00" cy="119.00" r="4.4" fill="none" stroke="#008000" stroke-width="1.35"/><circle cx="161.00" cy="119.00" r="0.7" fill="#008000"/>
<path d="M166.70,110.00 V113.40 M164.70,110.00 H168.70 M164.70,113.40 H168.70" stroke="#008000" stroke-width="1.05" fill="none"/>
<circle cx="166.70" cy="111.70" r="4.4" fill="none" stroke="#008000" stroke-width="1.35"/><circle cx="166.70" cy="111.70" r="0.7" fill="#008000"/>
<path d="M180.30,96.30 V99.70 M178.30,96.30 H182.30 M178.30,99.70 H182.30" stroke="#008000" stroke-width="1.05" fill="none"/>
<circle cx="180.30" cy="98.00" r="4.4" fill="none" stroke="#008000" stroke-width="1.35"/><circle cx="180.30" cy="98.00" r="0.7" fill="#008000"/>
<path d="M194.70,85.90 V89.30 M192.70,85.90 H196.70 M192.70,89.30 H196.70" stroke="#008000" stroke-width="1.05" fill="none"/>
<circle cx="194.70" cy="87.60" r="4.4" fill="none" stroke="#008000" stroke-width="1.35"/><circle cx="194.70" cy="87.60" r="0.7" fill="#008000"/>
<path d="M208.60,79.60 V82.00 M207.00,79.60 H210.20 M207.00,82.00 H210.20" stroke="#008000" stroke-width="1.05" fill="none"/>
<circle cx="208.60" cy="80.80" r="4.4" fill="none" stroke="#008000" stroke-width="1.35"/><circle cx="208.60" cy="80.80" r="0.7" fill="#008000"/>
<path d="M221.80,75.10 V77.50 M220.20,75.10 H223.40 M220.20,77.50 H223.40" stroke="#008000" stroke-width="1.05" fill="none"/>
<circle cx="221.80" cy="76.30" r="4.4" fill="none" stroke="#008000" stroke-width="1.35"/><circle cx="221.80" cy="76.30" r="0.7" fill="#008000"/>
<path d="M235.00,72.20 V74.60 M233.40,72.20 H236.60 M233.40,74.60 H236.60" stroke="#008000" stroke-width="1.05" fill="none"/>
<circle cx="235.00" cy="73.40" r="4.4" fill="none" stroke="#008000" stroke-width="1.35"/><circle cx="235.00" cy="73.40" r="0.7" fill="#008000"/>
<path d="M247.60,69.60 V72.00 M246.00,69.60 H249.20 M246.00,72.00 H249.20" stroke="#008000" stroke-width="1.05" fill="none"/>
<circle cx="247.60" cy="70.80" r="4.4" fill="none" stroke="#008000" stroke-width="1.35"/><circle cx="247.60" cy="70.80" r="0.7" fill="#008000"/>
<path d="M261.00,66.80 V69.20 M259.40,66.80 H262.60 M259.40,69.20 H262.60" stroke="#008000" stroke-width="1.05" fill="none"/>
<circle cx="261.00" cy="68.00" r="4.4" fill="none" stroke="#008000" stroke-width="1.35"/><circle cx="261.00" cy="68.00" r="0.7" fill="#008000"/>
</g>
<g clip-path="url(#plot)" fill="none" stroke="#ff0000" stroke-width="1.3" stroke-linejoin="round">
<path stroke-width="1.0" d="M110.0,205.0 L115.0,210.0 M113.1,200.7 L117.8,205.4 M116.4,196.4 L120.9,200.9 M119.8,192.1 L124.2,196.5 M122.6,187.8 L127.2,192.4 M124.9,183.5 L129.9,188.5 M127.2,179.2 L132.3,184.3 M129.5,174.9 L134.7,180.1 M131.7,170.6 L137.1,176.0 M134.0,166.3 L139.5,171.8 M136.3,162.0 L141.9,167.6 M138.6,157.7 L144.3,163.4 M140.9,153.4 L146.7,159.2 M143.8,149.1 L149.3,154.6 M146.8,144.8 L152.0,150.0 M149.7,140.5 L154.5,145.3 M152.3,136.2 L157.0,140.9 M154.9,131.9 L159.5,136.5 M157.7,127.6 L162.0,131.9 M160.6,123.3 L164.6,127.3 M164.1,119.0 L167.8,122.7 M167.6,114.7 L171.1,118.2 M170.7,110.4 L174.2,113.9 M173.7,106.1 L177.2,109.6 M176.9,101.8 L180.4,105.3 M181.2,97.5 L185.2,101.5 M186.3,93.2 L190.7,97.6 M192.8,88.9 L197.7,93.8"/>
<polyline points="199.70,85.42 205.40,88.49 211.10,79.76 216.80,82.81 222.50,74.48 228.20,78.42 233.90,71.02 239.60,74.93 245.30,67.73 251.00,71.96 256.70,65.15 262.40,69.87 268.10,63.71 273.80,68.96 279.50,62.80 285.20,68.04 290.90,61.89 296.60,67.22 302.30,61.18 308.00,66.54 313.70,60.50 319.40,65.86 325.10,59.82 330.80,65.19 336.50,59.15 342.20,64.52 347.90,58.49 353.60,63.86 359.30,57.82 365.00,63.19 370.70,57.18 376.40,62.70 382.10,56.82 387.80,62.33 393.50,56.46 399.20,62.00 404.90,56.14 410.60,61.68 416.30,55.78 422.00,61.29 427.70,55.39 433.40,60.90 439.10,55.00 444.80,60.51 450.50,54.61 456.20,60.12 461.90,54.22" stroke-width="1.1"/>
<path d="M108.60,207.00 C109.50,205.75 111.87,202.33 114.00,199.50 C116.13,196.67 118.57,194.58 121.40,190.00 C124.23,185.42 127.75,178.10 131.00,172.00 C134.25,165.90 137.83,158.57 140.90,153.40 C143.97,148.23 147.03,144.65 149.40,141.00 C151.77,137.35 153.33,134.32 155.10,131.50 C156.87,128.68 158.43,126.27 160.00,124.10 C161.57,121.93 163.07,120.27 164.50,118.50 C165.93,116.73 167.18,115.42 168.60,113.50 C170.02,111.58 171.52,109.08 173.00,107.00 C174.48,104.92 175.67,103.03 177.50,101.00 C179.33,98.97 182.20,96.33 184.00,94.80 C185.80,93.27 186.80,92.80 188.30,91.80 C189.80,90.80 191.38,89.73 193.00,88.80 C194.62,87.87 196.00,87.17 198.00,86.20 C200.00,85.23 202.77,84.10 205.00,83.00 C207.23,81.90 208.42,81.05 211.40,79.60 C214.38,78.15 219.08,75.75 222.90,74.30 C226.72,72.85 231.45,71.77 234.30,70.90 C237.15,70.03 237.05,69.92 240.00,69.10 C242.95,68.28 248.33,66.82 252.00,66.00 C255.67,65.18 255.33,64.90 262.00,64.20 C268.67,63.50 282.00,62.50 292.00,61.80 C302.00,61.10 309.00,60.77 322.00,60.00 C335.00,59.23 358.33,57.78 370.00,57.20 C381.67,56.62 385.33,56.70 392.00,56.50 C398.67,56.30 398.25,56.38 410.00,56.00 C421.75,55.62 453.75,54.50 462.50,54.20"/>
<path d="M108.60,226.00 C109.07,224.67 110.35,220.67 111.40,218.00 C112.45,215.33 113.65,212.40 114.90,210.00 C116.15,207.60 117.77,205.33 118.90,203.60 C120.03,201.87 120.03,201.87 121.70,199.60 C123.37,197.33 125.93,194.65 128.90,190.00 C131.87,185.35 135.98,177.80 139.50,171.70 C143.02,165.60 147.15,158.43 150.00,153.40 C152.85,148.37 154.68,144.98 156.60,141.50 C158.52,138.02 159.93,135.25 161.50,132.50 C163.07,129.75 164.10,127.82 166.00,125.00 C167.90,122.18 170.57,118.85 172.90,115.60 C175.23,112.35 177.43,108.30 180.00,105.50 C182.57,102.70 185.30,100.78 188.30,98.80 C191.30,96.82 195.22,95.07 198.00,93.60 C200.78,92.13 202.77,91.23 205.00,90.00 C207.23,88.77 208.42,87.77 211.40,86.20 C214.38,84.63 219.08,82.12 222.90,80.60 C226.72,79.08 231.45,77.97 234.30,77.10 C237.15,76.23 237.05,76.10 240.00,75.40 C242.95,74.70 247.33,73.62 252.00,72.90 C256.67,72.18 260.00,71.75 268.00,71.10 C276.00,70.45 291.00,69.62 300.00,69.00 C309.00,68.38 310.33,68.03 322.00,67.40 C333.67,66.77 355.33,65.70 370.00,65.20 C384.67,64.70 394.58,64.77 410.00,64.40 C425.42,64.03 453.75,63.23 462.50,63.00"/>
</g>
<path clip-path="url(#plot)" d="M102.00,218.50 C103.50,217.00 108.17,212.67 111.00,209.50 C113.83,206.33 116.60,202.75 119.00,199.50 C121.40,196.25 122.82,194.92 125.40,190.00 C127.98,185.08 131.45,176.67 134.50,170.00 C137.55,163.33 141.52,155.00 143.70,150.00 C145.88,145.00 146.35,143.33 147.60,140.00 C148.85,136.67 149.88,134.17 151.20,130.00 C152.52,125.83 154.08,120.00 155.50,115.00 C156.92,110.00 158.13,105.83 159.70,100.00 C161.27,94.17 163.25,86.67 164.90,80.00 C166.55,73.33 168.20,66.33 169.60,60.00 C171.00,53.67 172.15,47.83 173.30,42.00 C174.45,36.17 175.87,28.33 176.50,25.00 C177.13,21.67 177.00,22.50 177.10,22.00" fill="none" stroke="#000" stroke-width="2.7" stroke-linejoin="round"/>
<clipPath id="htlclip"><polygon points="269.30,64.00 310.00,62.40 365.00,60.80 415.00,60.40 462.50,59.80 462.50,80.00 400.00,84.00 355.00,88.00 308.00,95.50 290.00,98.50 269.30,102.00"/></clipPath>
<polygon points="269.30,64.00 310.00,62.40 365.00,60.80 415.00,60.40 462.50,59.80 462.50,80.00 400.00,84.00 355.00,88.00 308.00,95.50 290.00,98.50 269.30,102.00" fill="#fff" fill-opacity="0.3" stroke="none"/>
<path clip-path="url(#htlclip)" d="M217.12,55 L267.12,105 M221.47,55 L271.48,105 M225.82,55 L275.82,105 M230.17,55 L280.17,105 M234.52,55 L284.52,105 M238.87,55 L288.88,105 M243.22,55 L293.22,105 M247.57,55 L297.57,105 M251.92,55 L301.92,105 M256.27,55 L306.27,105 M260.62,55 L310.62,105 M264.97,55 L314.97,105 M269.32,55 L319.32,105 M273.67,55 L323.67,105 M278.02,55 L328.02,105 M282.37,55 L332.37,105 M286.72,55 L336.72,105 M291.07,55 L341.07,105 M295.42,55 L345.42,105 M299.77,55 L349.77,105 M304.12,55 L354.12,105 M308.47,55 L358.47,105 M312.82,55 L362.82,105 M317.17,55 L367.17,105 M321.52,55 L371.52,105 M325.87,55 L375.87,105 M330.22,55 L380.22,105 M334.57,55 L384.57,105 M338.93,55 L388.93,105 M343.28,55 L393.28,105 M347.63,55 L397.63,105 M351.98,55 L401.98,105 M356.33,55 L406.33,105 M360.68,55 L410.68,105 M365.03,55 L415.03,105 M369.38,55 L419.38,105 M373.73,55 L423.73,105 M378.08,55 L428.08,105 M382.43,55 L432.43,105 M386.78,55 L436.78,105 M391.13,55 L441.13,105 M395.48,55 L445.48,105 M399.83,55 L449.83,105 M404.18,55 L454.18,105 M408.53,55 L458.53,105 M412.88,55 L462.88,105 M417.23,55 L467.23,105 M421.58,55 L471.58,105 M425.93,55 L475.93,105 M430.28,55 L480.28,105 M434.63,55 L484.63,105 M438.98,55 L488.98,105 M443.33,55 L493.33,105 M447.68,55 L497.68,105 M452.03,55 L502.03,105 M456.38,55 L506.38,105 M460.73,55 L510.73,105 M268.88,55 L218.88,105 M273.23,55 L223.23,105 M277.58,55 L227.58,105 M281.93,55 L231.93,105 M286.28,55 L236.28,105 M290.63,55 L240.63,105 M294.98,55 L244.98,105 M299.33,55 L249.33,105 M303.68,55 L253.68,105 M308.03,55 L258.03,105 M312.38,55 L262.38,105 M316.73,55 L266.73,105 M321.08,55 L271.08,105 M325.43,55 L275.43,105 M329.78,55 L279.78,105 M334.13,55 L284.13,105 M338.48,55 L288.48,105 M342.83,55 L292.83,105 M347.18,55 L297.18,105 M351.53,55 L301.53,105 M355.88,55 L305.88,105 M360.23,55 L310.23,105 M364.58,55 L314.58,105 M368.93,55 L318.93,105 M373.28,55 L323.28,105 M377.63,55 L327.63,105 M381.98,55 L331.98,105 M386.33,55 L336.33,105 M390.68,55 L340.68,105 M395.03,55 L345.03,105 M399.38,55 L349.38,105 M403.73,55 L353.73,105 M408.08,55 L358.08,105 M412.43,55 L362.43,105 M416.78,55 L366.78,105 M421.13,55 L371.13,105 M425.48,55 L375.48,105 M429.83,55 L379.83,105 M434.18,55 L384.18,105 M438.53,55 L388.53,105 M442.88,55 L392.88,105 M447.23,55 L397.23,105 M451.58,55 L401.58,105 M455.93,55 L405.93,105 M460.28,55 L410.28,105 M464.63,55 L414.63,105 M468.98,55 L418.98,105 M473.33,55 L423.33,105 M477.68,55 L427.68,105 M482.03,55 L432.03,105 M486.38,55 L436.38,105 M490.73,55 L440.73,105 M495.08,55 L445.08,105 M499.43,55 L449.43,105 M503.78,55 L453.78,105 M508.13,55 L458.13,105 M512.48,55 L462.48,105" stroke="#5ab8ff" stroke-width="0.9" fill="none"/>
<polyline points="462.50,80.00 400.00,84.00 355.00,88.00 308.00,95.50 290.00,98.50 269.30,102.00" fill="none" stroke="#74c4ff" stroke-width="2.3"/>
<polyline points="269.30,64.00 310.00,62.40 365.00,60.80 415.00,60.40 462.50,59.80" fill="none" stroke="#5ab8ff" stroke-width="1"/>
<line x1="398" y1="37.3" x2="462.5" y2="37.3" stroke="#000" stroke-width="3.6" stroke-dasharray="6 7.85"/>
<g stroke="#000" stroke-width="1" fill="none">
<path d="M102.0,25.0 H462.5 V283.5 H102.0 Z"/>
<line x1="140.62" y1="283.5" x2="140.62" y2="279.2"/><line x1="140.62" y1="25.0" x2="140.62" y2="29.3"/>
<line x1="205.00" y1="283.5" x2="205.00" y2="279.2"/><line x1="205.00" y1="25.0" x2="205.00" y2="29.3"/>
<line x1="269.38" y1="283.5" x2="269.38" y2="279.2"/><line x1="269.38" y1="25.0" x2="269.38" y2="29.3"/>
<line x1="333.75" y1="283.5" x2="333.75" y2="279.2"/><line x1="333.75" y1="25.0" x2="333.75" y2="29.3"/>
<line x1="398.12" y1="283.5" x2="398.12" y2="279.2"/><line x1="398.12" y1="25.0" x2="398.12" y2="29.3"/>
<line x1="102.0" y1="234.26" x2="106.5" y2="234.26"/><line x1="462.5" y1="234.26" x2="458.0" y2="234.26"/>
<line x1="102.0" y1="185.02" x2="106.5" y2="185.02"/><line x1="462.5" y1="185.02" x2="458.0" y2="185.02"/>
<line x1="102.0" y1="135.79" x2="106.5" y2="135.79"/><line x1="462.5" y1="135.79" x2="458.0" y2="135.79"/>
<line x1="102.0" y1="86.55" x2="106.5" y2="86.55"/><line x1="462.5" y1="86.55" x2="458.0" y2="86.55"/>
<line x1="102.0" y1="37.31" x2="106.5" y2="37.31"/><line x1="462.5" y1="37.31" x2="458.0" y2="37.31"/>
</g>
<g font-size="21px" fill="#000" stroke="#000" stroke-width="0.35">
<text x="143.53" y="311.2" text-anchor="middle">150</text>
<text x="207.90" y="311.2" text-anchor="middle">200</text>
<text x="272.27" y="311.2" text-anchor="middle">250</text>
<text x="336.65" y="311.2" text-anchor="middle">300</text>
<text x="401.02" y="311.2" text-anchor="middle">350</text>
<text x="465.40" y="311.2" text-anchor="middle">400</text>
<text x="89.5" y="290.80" text-anchor="end">0</text>
<text x="89.5" y="241.56" text-anchor="end">0.2</text>
<text x="89.5" y="192.32" text-anchor="end">0.4</text>
<text x="89.5" y="143.09" text-anchor="end">0.6</text>
<text x="89.5" y="93.85" text-anchor="end">0.8</text>
<text x="89.5" y="44.61" text-anchor="end">1</text>
<text x="282" y="342" text-anchor="middle">T [MeV]</text>
<text transform="translate(23.7,168.9) rotate(-90)" x="0" y="0">&#967;<tspan dy="6.6" font-size="16.8px">2</tspan><tspan dy="-17.3" font-size="16.8px">u</tspan></text>
</g>
<g font-size="13.8px" fill="#000" text-anchor="end" stroke="#000" stroke-width="0.25">
<text x="383.5" y="45">SB limit</text>
<text x="369.8" y="122.5">N<tspan dy="3.8" font-size="11px">t</tspan><tspan dy="-3.8">=6</tspan></text>
<text x="369.8" y="143.3">N<tspan dy="3.8" font-size="11px">t</tspan><tspan dy="-3.8">=8</tspan></text>
<text x="369.8" y="164.0">N<tspan dy="3.8" font-size="11px">t</tspan><tspan dy="-3.8">=10</tspan></text>
<text x="369.8" y="184.8">N<tspan dy="3.8" font-size="11px">t</tspan><tspan dy="-3.8">=12</tspan></text>
<text x="369.8" y="205.5">N<tspan dy="3.8" font-size="11px">t</tspan><tspan dy="-3.8">=16</tspan></text>
<text x="369.8" y="227.7">cont.</text>
<text x="369.8" y="248.4">HRG</text>
<text x="369.8" y="269.1">HTL</text>
</g>
<circle cx="410.00" cy="116.70" r="4.4" fill="none" stroke="#000" stroke-width="1.35"/><circle cx="410.00" cy="116.70" r="0.7" fill="#000"/>
<path d="M410.00,142.06 L414.20,135.36 L405.80,135.36 Z" fill="none" stroke="#ff8000" stroke-width="1.35"/><circle cx="410.00" cy="137.46" r="0.7" fill="#ff8000"/>
<rect x="405.75" y="153.97" width="8.5" height="8.5" fill="none" stroke="#4b0fd2" stroke-width="1.35"/><circle cx="410.00" cy="158.22" r="0.7" fill="#4b0fd2"/>
<path d="M410.00,174.38 L414.20,181.08 L405.80,181.08 Z" fill="none" stroke="#1e78ff" stroke-width="1.35"/><circle cx="410.00" cy="178.98" r="0.7" fill="#1e78ff"/>
<circle cx="410.00" cy="199.74" r="4.4" fill="none" stroke="#008000" stroke-width="1.35"/><circle cx="410.00" cy="199.74" r="0.7" fill="#008000"/>
<path d="M382.5,214.9 V226.4 M382.5,214.9 L387,220.7 L382.5,226.4 M382.5,214.9 H385.7 M388.9,214.9 H402.3 M405.5,214.9 H416.4 M421.5,214.9 H435 M382.5,226.4 H393.4 M398.5,226.4 H412.6 M415.1,226.4 H427.9 M433,226.4 H437.8 M437.8,218.9 V226.4 M392.8,220.7 L398.5,214.9 L404.2,220.7 L398.5,226.4 Z M399.8,220.7 L405.5,214.9 L411.2,220.7 L405.5,226.4 Z M417.8,220.7 L423.5,214.9 L429.2,220.7 L423.5,226.4 Z M423.4,220.7 L429.2,214.9 L434.9,220.7 L429.2,226.4 Z" fill="none" stroke="#ff2020" stroke-width="0.75" opacity="0.62"/>
<line x1="382.7" y1="241.3" x2="437.3" y2="241.3" stroke="#000" stroke-width="2.5"/>
<path d="M383.0,256.8 l10.4,10.4 M385.6,256.8 l8.4,8.4 M388.2,256.8 l5.8,5.8 M390.8,256.8 l3.2,3.2 M405.0,256.8 l-10.4,10.4 M402.4,256.8 l-8.4,8.4 M399.8,256.8 l-5.8,5.8 M397.2,256.8 l-3.2,3.2 M383.5,259.4 l2.6,-2.6 M384.5,261.2 l4.4,-4.4 M404.5,259.4 l-2.6,-2.6 M403.5,261.2 l-4.4,-4.4 M390.0,267.2 l4,-4 l4,4 M392.0,267.2 l2,-2 l2,2 M382.5,267.2 H388.5 M391.0,267.2 H399.5 M415.3,256.8 l10.4,10.4 M417.9,256.8 l8.4,8.4 M420.5,256.8 l5.8,5.8 M423.1,256.8 l3.2,3.2 M437.3,256.8 l-10.4,10.4 M434.7,256.8 l-8.4,8.4 M432.1,256.8 l-5.8,5.8 M429.5,256.8 l-3.2,3.2 M415.8,259.4 l2.6,-2.6 M416.8,261.2 l4.4,-4.4 M436.8,259.4 l-2.6,-2.6 M435.8,261.2 l-4.4,-4.4 M422.3,267.2 l4,-4 l4,4 M424.3,267.2 l2,-2 l2,2 M414.8,267.2 H420.8 M423.3,267.2 H431.8" fill="none" stroke="#58b6ff" stroke-width="0.65" opacity="0.6"/>
</svg></body></html>
